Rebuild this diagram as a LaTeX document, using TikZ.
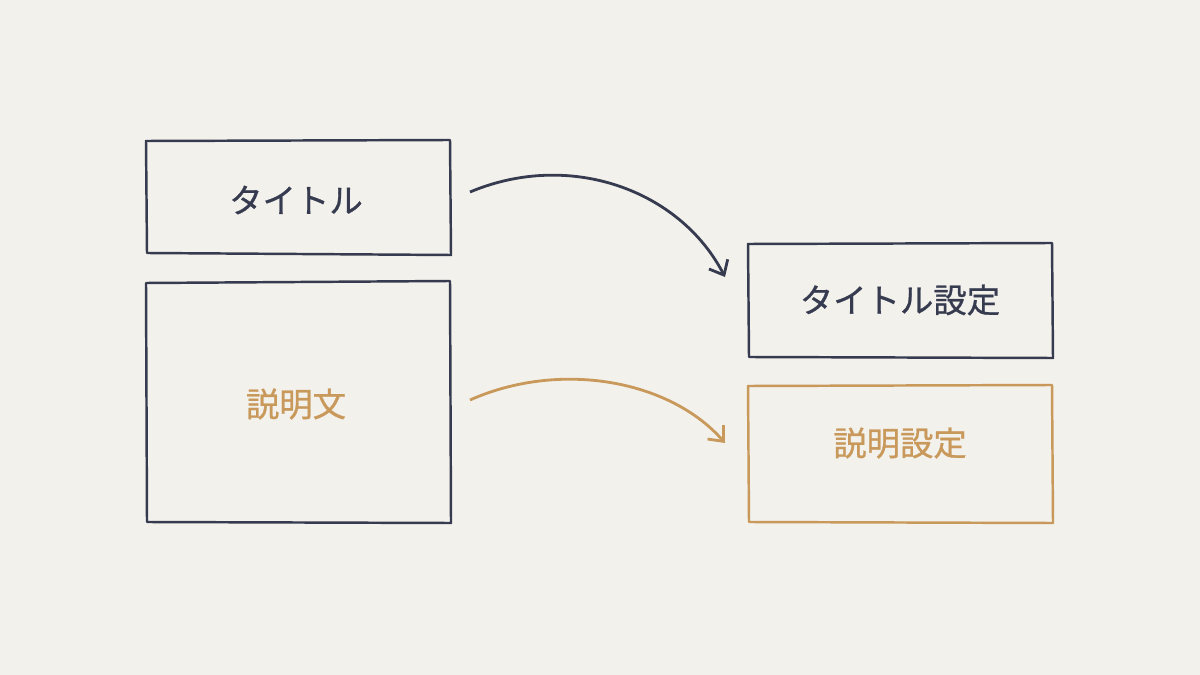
\documentclass[tikz,border=0pt]{standalone}
\usepackage{fontspec}
\newfontfamily\cjk[FakeBold=0.8]{Noto Sans CJK JP}
\usetikzlibrary{arrows.meta}
\definecolor{bg}{HTML}{F3F1EC}
\definecolor{navy}{HTML}{363B4F}
\definecolor{gold}{HTML}{C8995A}
\begin{document}
\begin{tikzpicture}[x=0.02cm,y=-0.02cm,
  box/.style={draw=#1,line width=1.4pt,line join=round},
  lbl/.style={font=\cjk\fontsize{19}{22}\selectfont,text=#1},
  arr/.style={draw=#1,line width=1.6pt,-{Straight Barb[length=7pt,width=12pt]}}]
\fill[bg] (0,0) rectangle (1200,675);
\useasboundingbox (0,0) rectangle (1200,675);
\draw[box=navy] (146,141) -- (450,140) -- (451,255) -- (147,253) -- cycle;
\draw[box=navy] (146,283) -- (450,281) -- (451,523) -- (147,522) -- cycle;
\draw[box=navy] (748,244) -- (1052,243) -- (1053,358) -- (749,357) -- cycle;
\draw[box=gold] (748,386) -- (1052,385) -- (1053,523) -- (749,522) -- cycle;
\node[lbl=navy] (t) at (296,200) {タイトル};
\node[lbl=gold] (d) at (296,404) {説明文};
\node[lbl=navy] (ts) at (900,300) {タイトル設定};
\node[lbl=gold] (ds) at (900,443) {説明設定};
\coordinate (a1) at (470,192); \coordinate (b1) at (725,277);
\coordinate (a2) at (470,400); \coordinate (b2) at (725,443);
\draw[arr=navy] (a1) .. controls (570,150) and (680,190) .. (b1);
\draw[arr=gold] (a2) .. controls (560,360) and (670,380) .. (b2);
\end{tikzpicture}
\end{document}
